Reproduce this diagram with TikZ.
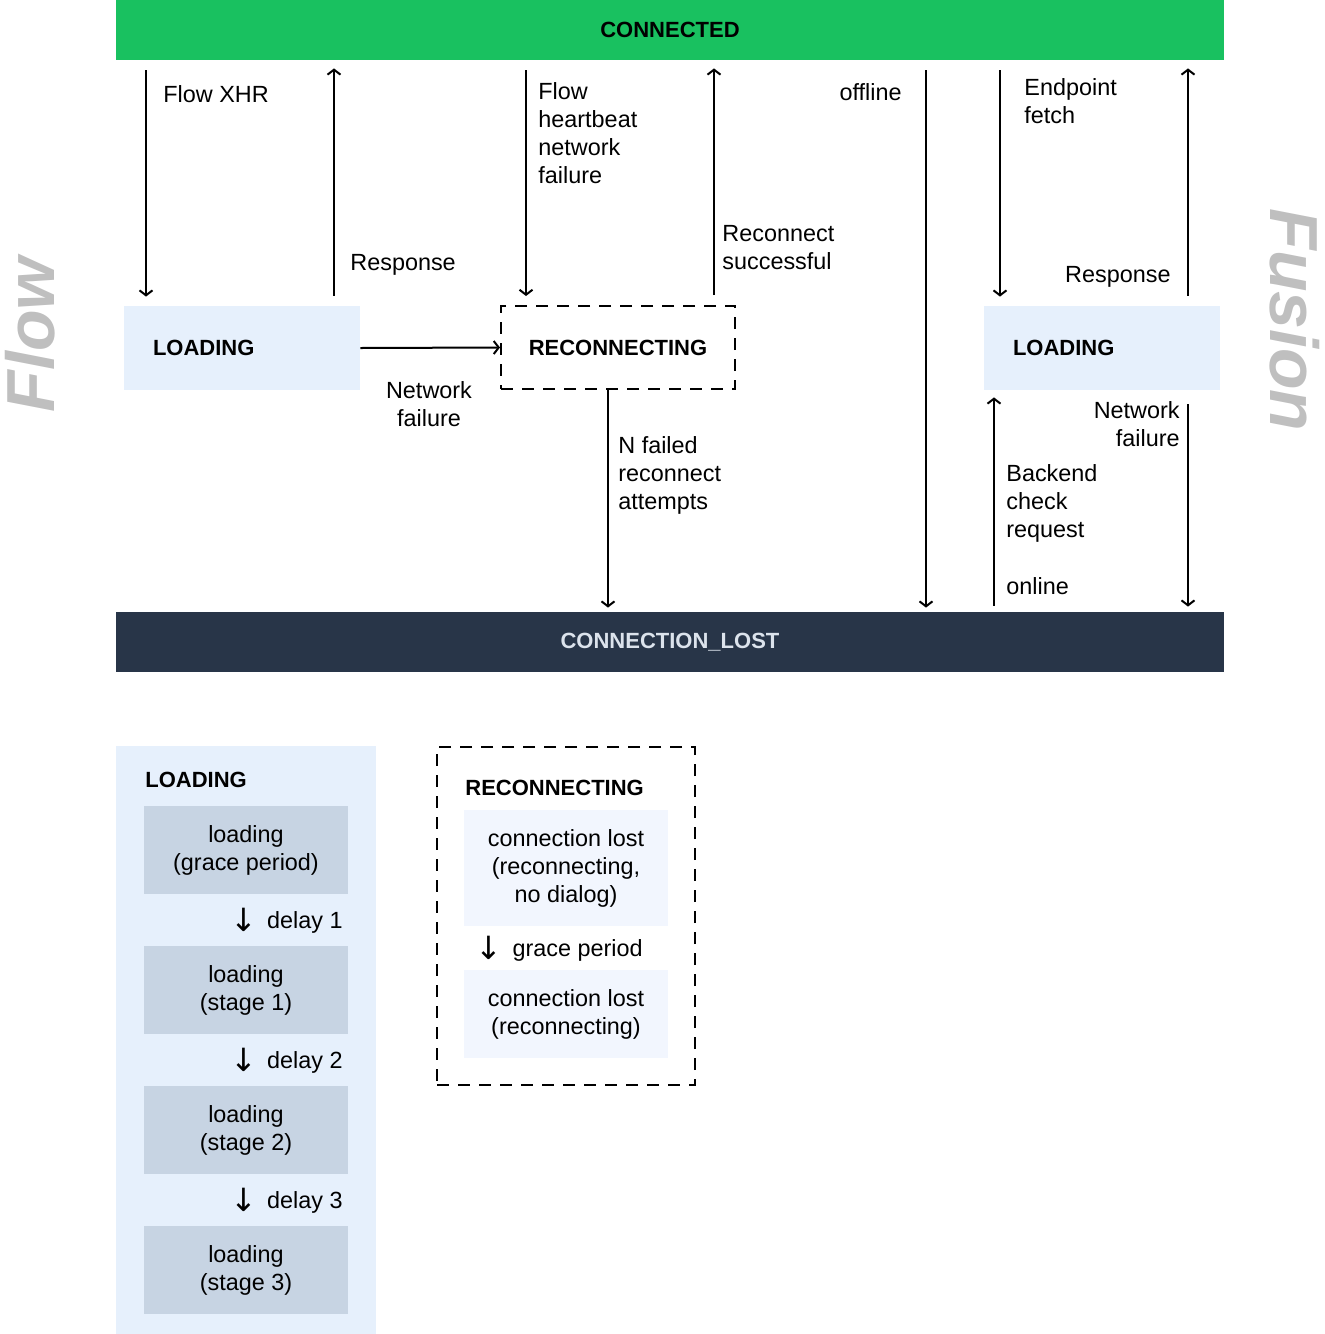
\documentclass[tikz,border=0pt]{standalone}
\usepackage{fontspec}
\setmainfont{Liberation Sans}
\newfontfamily\arrowfont{DejaVu Sans}
\usetikzlibrary{arrows.meta}
\definecolor{connectedgreen}{RGB}{25,193,96}
\definecolor{lostnavy}{RGB}{40,53,72}
\definecolor{lostlabel}{RGB}{220,227,236}
\definecolor{loadblue}{RGB}{230,240,252}
\definecolor{stagegray}{RGB}{199,212,227}
\definecolor{reconnpale}{RGB}{242,246,254}
\definecolor{sidegray}{RGB}{191,191,191}
\newcommand{\dnarr}{\raisebox{-1.5pt}{\arrowfont\fontsize{16}{14}\selectfont ↓}}

\begin{document}
\begin{tikzpicture}[x=0.5pt, y=-0.5pt, >={Straight Barb[length=2.5pt,width=6.5pt]},
    lbl/.style={font=\fontsize{11.7}{14}\selectfont, inner sep=0pt, align=left},
    ttl/.style={font=\fontsize{11}{14}\selectfont\bfseries, inner sep=0pt},
    bar/.style={minimum width=554pt, minimum height=30pt, inner sep=0pt,
      font=\fontsize{11}{14}\selectfont\bfseries},
    statebox/.style={fill=loadblue, minimum width=118pt, minimum height=42pt,
      inner xsep=14.5pt, inner ysep=0pt, text width=89pt, align=left,
      font=\fontsize{11}{14}\selectfont\bfseries},
    stagebox/.style={fill=stagegray, minimum width=102pt, minimum height=44pt,
      inner sep=0pt, align=center, font=\fontsize{11.7}{14}\selectfont},
    substate/.style={stagebox, fill=reconnpale},
    dashbox/.style={draw, line width=1pt, dash pattern=on 6pt off 4.5pt},
    tr/.style={line width=1pt, ->},
    side/.style={text=sidegray, inner sep=0pt,
      font=\fontsize{34}{40}\selectfont\bfseries\itshape}]
    \useasboundingbox (0,0) rectangle (1324,1334);

    % states
    \node[bar, fill=connectedgreen] (connected) at (670,30) {CONNECTED};
    \node[bar, fill=lostnavy, text=lostlabel] (lost) at (670,642) {CONNECTION\_LOST};
    \node[statebox] (flowload) at (242,348) {LOADING};
    \node[dashbox, minimum width=117pt, minimum height=41.5pt, inner sep=0pt,
      font=\fontsize{11}{14}\selectfont\bfseries] (reconn) at (618,347.5) {RECONNECTING};
    \node[statebox] (fusionload) at (1102,348) {LOADING};

    % transitions
    \draw[tr, shorten <=5pt, shorten >=4.5pt] (connected.south -| 146,0) -- (flowload.north -| 146,0);
    \draw[tr, shorten <=5pt, shorten >=4pt] (flowload.north -| 334,0) -- (connected.south -| 334,0);
    \draw[tr, shorten <=5pt, shorten >=4.5pt] (connected.south -| 526,0) -- (reconn.north -| 526,0);
    \draw[tr, shorten <=5pt, shorten >=4pt] (reconn.north -| 714,0) -- (connected.south -| 714,0);
    \draw[tr, shorten <=5pt, shorten >=2pt] (connected.south -| 926,0) -- (lost.north -| 926,0);
    \draw[tr, shorten <=5pt, shorten >=4.5pt] (connected.south -| 1000,0) -- (fusionload.north -| 1000,0);
    \draw[tr, shorten <=5pt, shorten >=4pt] (fusionload.north -| 1188,0) -- (connected.south -| 1188,0);
    \draw[tr] (flowload.east) -- (reconn.west);
    \draw[tr, shorten >=2pt] (reconn.south -| 608,0) -- (lost.north -| 608,0);
    \draw[tr, shorten <=3pt, shorten >=3.5pt] (lost.north -| 994,0) -- (fusionload.south -| 994,0);
    \draw[tr, shorten <=7pt, shorten >=2.5pt] (fusionload.south -| 1188,0) -- (lost.north -| 1188,0);

    % transition labels
    \node[lbl, anchor=base west] (xhr) at (163,102) {Flow XHR};
    \node[lbl, anchor=base west] (flowresp) at (350,270) {Response};
    \node[lbl, anchor=north west] (heartbeat) at (538,82) {Flow\\heartbeat\\network\\failure};
    \node[lbl, anchor=north west] (reconnok) at (722,225) {Reconnect\\successful};
    \node[lbl, anchor=base east] (offline) at (902,100) {offline};
    \node[lbl, anchor=north west] (endpoint) at (1024,78) {Endpoint\\fetch};
    \node[lbl, anchor=base east] (fusionresp) at (1171,282) {Response};
    \node[lbl, anchor=north, align=center] (flowfail) at (429,381) {Network\\failure};
    \node[lbl, anchor=north west] (nfailed) at (618,436) {N failed\\reconnect\\attempts};
    \node[lbl, anchor=north east, align=right] (fusionfail) at (1180,401) {Network\\failure};
    \node[lbl, anchor=north west] (backend) at (1006,464) {Backend\\check\\request};
    \node[lbl, anchor=base west] (online) at (1006,594) {online};

    % side captions
    \node[side, rotate=90] (flowside) at (30,335) {Flow};
    \node[side, rotate=-90] (fusionside) at (1295,320) {Fusion};

    % loading stages
    \node[fill=loadblue, minimum width=130pt, minimum height=294pt, inner sep=0pt] (loadpanel) at (246,1040) {};
    \node[ttl, anchor=west] (loadtitle) at (145,780) {LOADING};
    \node[stagebox] (stage0) at (246,850) {loading\\(grace period)};
    \foreach \y/\n in {990/1, 1130/2, 1270/3} {
      \node[stagebox] (stage\n) at (246,\y) {loading\\(stage \n)};
      \node[lbl, anchor=base east] (delay\n) at (343,\y-62) {\dnarr\hspace{5pt}delay \n};
    }

    % reconnecting stages
    \node[dashbox, minimum width=129pt, minimum height=169pt, inner sep=0pt] (reconnpanel) at (566,916) {};
    \node[ttl, anchor=west] (reconntitle) at (465,788) {RECONNECTING};
    \node[substate, minimum height=58pt] (lostquiet) at (566,868) {connection lost\\(reconnecting,\\no dialog)};
    \node[lbl, anchor=base east] (grace) at (643,956) {\dnarr\hspace{5pt}grace period};
    \node[substate] (lostloud) at (566,1014) {connection lost\\(reconnecting)};
  \end{tikzpicture}
\end{document}
